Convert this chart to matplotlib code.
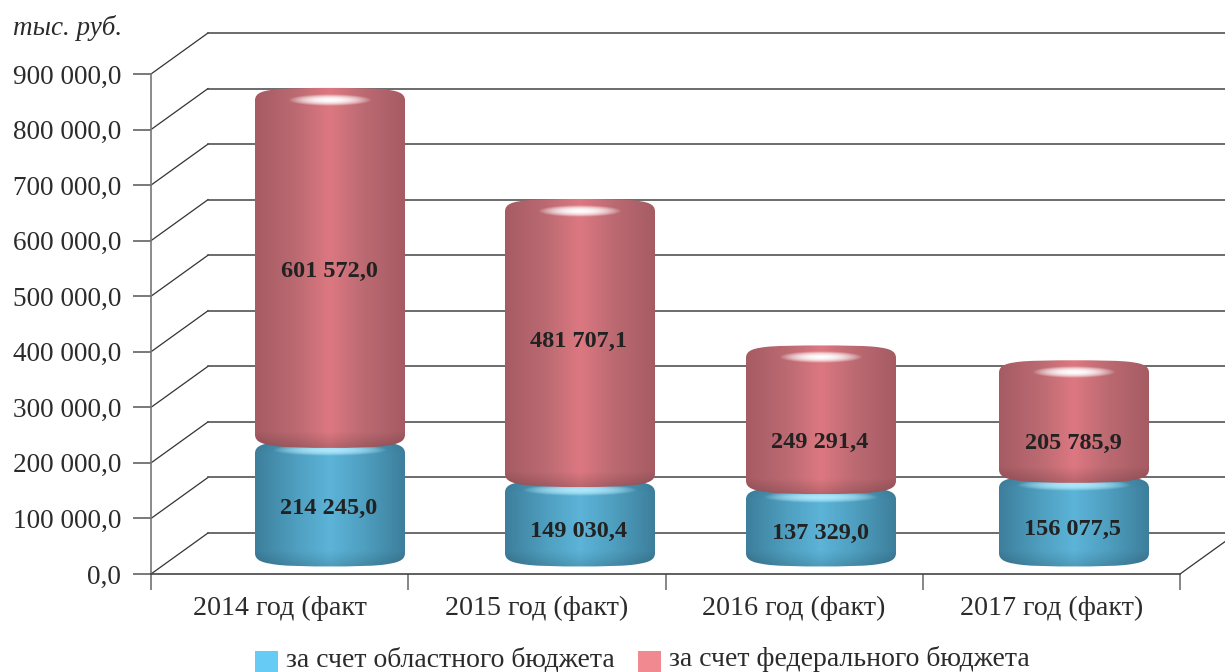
import numpy as np
import matplotlib
matplotlib.use('Agg')
import matplotlib.pyplot as plt
from matplotlib.patches import Rectangle
from matplotlib.path import Path
from matplotlib.transforms import IdentityTransform

years = ['2014 год (факт', '2015 год (факт)', '2016 год (факт)', '2017 год (факт)']
regional = [214245.0, 149030.4, 137329.0, 156077.5]
federal = [601572.0, 481707.1, 249291.4, 205785.9]
y_ticks = [0, 100000, 200000, 300000, 400000, 500000, 600000, 700000, 800000, 900000]
unit_label = 'тыс. руб.'
legend_labels = ['за счет областного бюджета', 'за счет федерального бюджета']

# layout, in pixels of the 1225x672 picture
W, H = 1225, 672
bar_centers = [330, 580, 821, 1074]
bar_halfwidth = 75
bar_base_y = 567
red_label_dy = [3, -2, 23, 22]
blue_label_dy = [1, 4, 3, 4]

plt.rcParams['font.family'] = ['Liberation Serif', 'DejaVu Serif']
text_col = '#2b2b2b'


def fmt(v):
    if v == 0:
        return '0,0'
    s = f'{v:,.1f}'.replace(',', ' ').replace('.', ',')
    return s


fig = plt.figure(figsize=(W / 100, H / 100), dpi=100)

# front wall of the chart, this one has the real value scale
ax = fig.add_axes([151 / W, (H - 574) / H, 1029 / W, 500 / H])
ax.set_xlim(0, 4)
ax.set_ylim(0, 900000)
for s in ['top', 'right']:
    ax.spines[s].set_visible(False)
ax.spines['left'].set_color('#777777')
ax.spines['bottom'].set_color('#444444')
ax.spines['left'].set_linewidth(1.2)
ax.spines['bottom'].set_linewidth(1.2)
ax.set_yticks(y_ticks)
ax.set_yticklabels([fmt(v) for v in y_ticks], fontsize=19.6, color=text_col)
ax.tick_params(axis='y', length=13, pad=8.5, color='#555555', width=1.1)
ax.set_xticks(range(5))
ax.set_xticklabels([])
ax.set_xticks(np.arange(4) + 0.5, minor=True)
ax.set_xticklabels(years, minor=True, fontsize=20.2, color=text_col)
ax.tick_params(axis='x', which='major', length=11.5, color='#666666', width=1.1)
ax.tick_params(axis='x', which='minor', length=0, pad=16)

# walls drawn with a depth offset
dx = 57 / (1029 / 4)
dy = 41 * 900000 / 500
for v in y_ticks:
    ax.plot([0, dx], [v, v + dy], color='#333333', lw=0.9, clip_on=False, zorder=1)
    ax.plot([dx, 4 + dx], [v + dy, v + dy], color='#444444', lw=1.1, clip_on=False, zorder=1)
ax.plot([4, 4 + dx], [0, dy], color='#333333', lw=0.9, clip_on=False, zorder=1)

# bars sit on their own overlay, the cylinders run 0.6 px per 1000
k = 0.0006
bax = fig.add_axes([0, 0, 1, 1], facecolor='none')
bax.set_xlim(0, W)
bax.set_ylim(-(H - 577) / k, 577 / k)
bax.axis('off')
bax.set_autoscale_on(False)


def to_py(v):
    return 577 - k * v


def to_v(py):
    return (577 - py) / k


def cyl_path(l, r, top, bot):
    # rounded barrel outline, given in picture pixels
    c = (l + r) / 2
    verts = [(l, top + 13), (l, top + 5), (l + 8, top + 3), (l + 24, top + 1.5),
             (c - 30, top), (c + 30, top), (r - 24, top + 1.5),
             (r - 8, top + 3), (r, top + 5), (r, top + 13),
             (r, bot - 14),
             (r, bot - 6), (r - 8, bot - 4), (r - 24, bot - 2),
             (c + 30, bot), (c - 30, bot), (l + 24, bot - 2),
             (l + 8, bot - 4), (l, bot - 6), (l, bot - 14), (l, top + 13)]
    codes = [Path.MOVETO] + [Path.CURVE4] * 9 + [Path.LINETO] + [Path.CURVE4] * 9 + [Path.LINETO]
    disp = [(x, H - y) for x, y in verts]
    return Path(disp, codes)


def draw_cyl(xc, top, bot, edge, mid, centre, rim_top, rim_bot, z):
    l, r = xc - bar_halfwidth, xc + bar_halfwidth
    w, h = r - l, int(bot - top)
    t = np.abs(np.linspace(-1, 1, w))
    edge, mid, centre = [np.array(matplotlib.colors.to_rgb(c)) for c in (edge, mid, centre)]
    row = np.zeros((w, 3))
    for i in range(3):
        row[:, i] = np.interp(t, [0, 0.45, 1], [centre[i], mid[i], edge[i]])
    img = np.repeat(row[None, :, :], h, axis=0)
    # darker bands at both ends of the barrel
    ys = np.arange(h)
    f_top = np.clip(1 - ys / 13, 0, 1)[:, None, None] * rim_top
    f_bot = np.clip(1 - (h - 1 - ys) / 16, 0, 1)[:, None, None] * rim_bot
    img = img * (1 - f_top) * (1 - f_bot)
    im = bax.imshow(img, extent=[l, r, to_v(bot), to_v(top)], aspect='auto',
                    interpolation='bilinear', zorder=z)
    im.set_clip_path(cyl_path(l, r, top, bot), IdentityTransform())


def glow(xc, py, half_w, half_h, z, col=(1, 1, 1), strength=0.95):
    # soft light spot on the rim
    xx, yy = np.meshgrid(np.linspace(-1, 1, 90), np.linspace(-1, 1, 30))
    a = np.clip(1 - (xx ** 2 + yy ** 2), 0, 1) ** 0.9 * strength
    img = np.zeros((30, 90, 4))
    img[..., :3] = col
    img[..., 3] = a
    bax.imshow(img, extent=[xc - half_w, xc + half_w, to_v(py + half_h), to_v(py - half_h)],
               aspect='auto', interpolation='bilinear', zorder=z)


for xc, b, f, d1, d2 in zip(bar_centers, regional, federal, blue_label_dy, red_label_dy):
    split = to_py(b)
    top = to_py(b + f)
    draw_cyl(xc, split - 8, bar_base_y, '#3d7f9c', '#4f9fc0', '#5cb4d8', 0.06, 0.14, 3)
    glow(xc, split + 2, 58, 6, 3.5, col=(0.72, 0.93, 1.0), strength=0.9)
    draw_cyl(xc, top, split, '#a65b63', '#bc6a72', '#dd7881', 0.0, 0.16, 4)
    glow(xc, top + 12, 42, 6, 4.5, strength=1.0)
    bax.annotate(fmt(b), (xc - 1, (b + to_v(bar_base_y)) / 2), xytext=(0, -d1 * 0.72),
                 textcoords='offset points', ha='center', va='center',
                 fontsize=17.5, fontweight='bold', color='#222222', zorder=6)
    bax.annotate(fmt(f), (xc - 1, b + f / 2), xytext=(0, -d2 * 0.72),
                 textcoords='offset points', ha='center', va='center',
                 fontsize=17.5, fontweight='bold', color='#222222', zorder=6)

fig.text(13 / W, (H - 28) / H, unit_label, fontsize=19.5, style='italic',
         color=text_col, ha='left', va='center')

# legend sits hard against the bottom edge of the picture, as in the source
for x0, col, label in zip([255, 638], ['#66ccf5', '#f08a90'], legend_labels):
    fig.add_artist(Rectangle((x0 / W, -0.5 / H), 23 / W, 22 / H, transform=fig.transFigure,
                             facecolor=col, edgecolor='none'))
    fig.text((x0 + 31) / W, 5.5 / H, label, fontsize=20, color=text_col, ha='left', va='baseline')

fig.savefig('out.png', dpi=100)
